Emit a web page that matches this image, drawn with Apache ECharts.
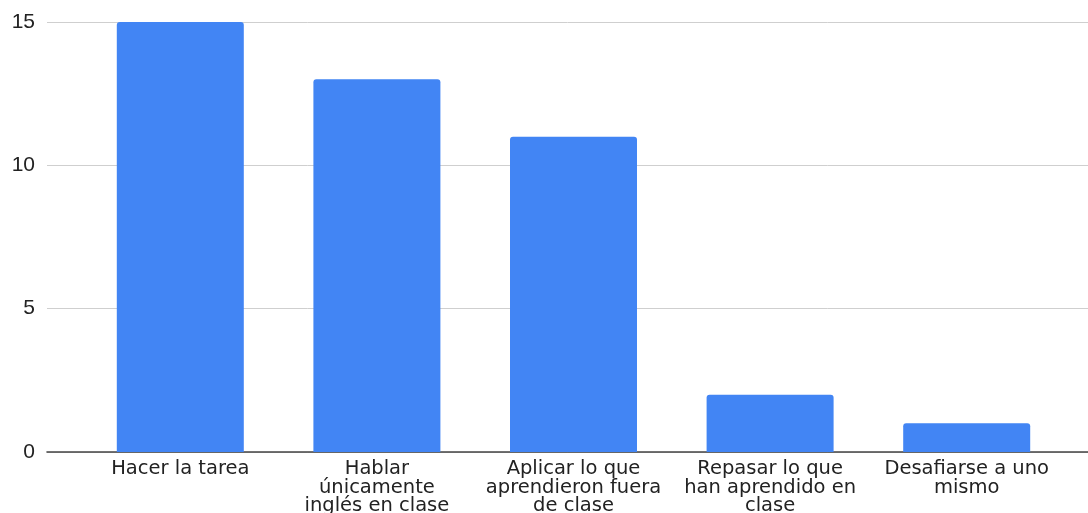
<!DOCTYPE html>
<html><head><meta charset="utf-8">
<script src="https://cdn.jsdelivr.net/npm/echarts@6/dist/echarts.min.js"></script>
<style>html,body{margin:0;padding:0;background:#fff}#c{width:1088px;height:513px}</style>
</head><body><div id="c"></div>
<script>
const categories = ["Hacer la tarea", "Hablar\núnicamente\ninglés en clase", "Aplicar lo que\naprendieron fuera\nde clase", "Repasar lo que\nhan aprendido en\nclase", "Desafiarse a uno\nmismo"];
const values = [15, 13, 11, 2, 1];
const yTicks = [0, 5, 10, 15];

const chart = echarts.init(document.getElementById('c'), null, {renderer: 'canvas'});
chart.setOption({
  animation: false,
  backgroundColor: '#fff',
  grid: [
    {left: 47, right: 0, top: 22, bottom: 61, outerBoundsMode: 'none', containLabel: false},
    {left: 82, right: 23, top: 22, bottom: 61, outerBoundsMode: 'none', containLabel: false}
  ],
  xAxis: [
    {gridIndex: 0, type: 'category', data: [''], axisLine: {show: true, lineStyle: {color: '#444', width: 1.6}}, axisTick: {show: false}, axisLabel: {show: false}},
    {gridIndex: 1, type: 'category', data: categories, axisLine: {show: false}, axisTick: {show: false},
     axisLabel: {interval: 0, margin: 8, color: '#222', fontFamily: "'DejaVu Sans', sans-serif", fontSize: 19.5, lineHeight: 18.5, align: 'center'}}
  ],
  yAxis: [
    {gridIndex: 0, type: 'value', min: yTicks[0], max: yTicks[yTicks.length - 1], interval: 5,
     axisLine: {show: false}, axisTick: {show: false},
     axisLabel: {margin: 12, color: '#222', fontFamily: "'Liberation Sans', Arial, sans-serif", fontSize: 21},
     splitLine: {lineStyle: {color: '#cfcfcf', width: 1}}},
    {gridIndex: 1, type: 'value', min: yTicks[0], max: yTicks[yTicks.length - 1], interval: 5, show: false, splitLine: {show: false}}
  ],
  series: [{
    type: 'bar', xAxisIndex: 1, yAxisIndex: 1, data: values, barWidth: 127,
    itemStyle: {color: '#4285F4', borderRadius: [3, 3, 0, 0]}
  }]
});
</script></body></html>
